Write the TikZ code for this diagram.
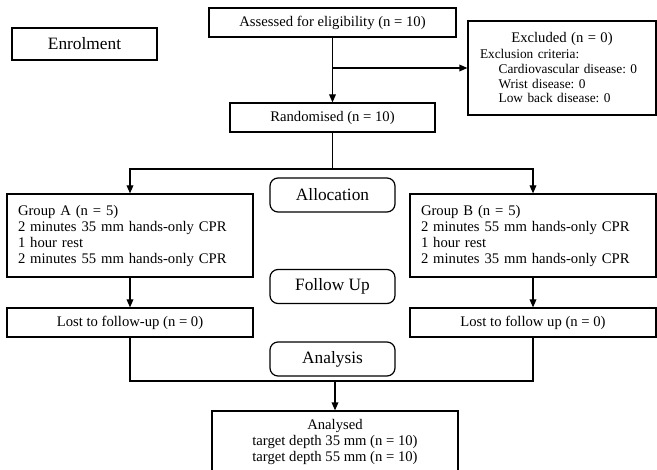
\documentclass[tikz,border=0pt]{standalone}
\usepackage{fontspec}
\setmainfont{Liberation Serif}
\usetikzlibrary{arrows.meta}
\newcommand{\bigtxt}{\fontsize{13}{15}\selectfont}
\newcommand{\midtxt}{\fontsize{11}{12}\selectfont}
\newcommand{\smalltxt}{\fontsize{10}{11}\selectfont}
\frenchspacing

\begin{document}
\begin{tikzpicture}[x=.75pt,y=-.75pt,line width=.9pt,
  box/.style={draw,rectangle,inner sep=0pt,font=\midtxt},
  grp/.style={box,minimum width=184.5pt,minimum height=62.25pt,text width=168pt,inner xsep=8.25pt,align=left},
  lost/.style={box,minimum width=184.5pt,minimum height=21.75pt},
  stage/.style={draw,rectangle,rounded corners=6pt,minimum width=93.75pt,minimum height=25.5pt,font=\bigtxt},
  arr/.style={-{Triangle[length=6pt,width=5pt]}}]
  \useasboundingbox (0,0) rectangle (657,470);

  % enrolment
  \node[box,font=\bigtxt,minimum width=108.75pt,minimum height=24pt] (enrol) at (84.5,44) {Enrolment};
  \node[box,minimum width=185.25pt,minimum height=21.75pt] (assess) at (332.5,22.5) {Assessed for eligibility (n = 10)};
  \node[box,font=\smalltxt,minimum width=141pt,minimum height=70.5pt,text width=123pt,inner xsep=9pt,align=left] (excl) at (562,68)
    {\makebox[\linewidth]{\midtxt Excluded (n = 0)}\\[1pt]
     Exclusion criteria:\\
     \hspace*{14pt}Cardiovascular disease: 0\\
     \hspace*{14pt}Wrist disease: 0\\
     \hspace*{14pt}Low back disease: 0};
  \node[box,minimum width=153.75pt,minimum height=21.75pt] (rand) at (332.5,117.5) {Randomised (n = 10)};

  % stages
  \node[stage] (alloc) at (332.5,195) {Allocation};
  \node[stage] (follow) at (332.5,286.5) {Follow Up};
  \node[stage] (analysis) at (332.5,359) {Analysis};

  % arms
  \node[grp] (grpA) at (130,235.5) {Group A (n = 5)\\2 minutes 35 mm hands-only CPR\\1 hour rest\\2 minutes 55 mm hands-only CPR};
  \node[grp] (grpB) at (533,235.5) {Group B (n = 5)\\2 minutes 55 mm hands-only CPR\\1 hour rest\\2 minutes 35 mm hands-only CPR};
  \node[lost] (lostA) at (130,322.5) {Lost to follow-up (n = 0)};
  \node[lost] (lostB) at (533,322.5) {Lost to follow up (n = 0)};
  \node[box,minimum width=184.5pt,minimum height=46.5pt,align=center] (result) at (335,442)
    {Analysed\\target depth 35 mm (n = 10)\\target depth 55 mm (n = 10)};

  % connectors
  \draw[arr] (assess) -- (rand);
  \draw[arr] (assess.south |- excl.west) -- (excl.west);
  \coordinate (split) at (332.5,169);
  \draw (rand) -- (split);
  \draw[arr] (split) -| (grpA.north);
  \draw[arr] (split) -| (grpB.north);
  \draw[arr] (grpA) -- (lostA);
  \draw[arr] (grpB) -- (lostB);
  \coordinate (merge) at (335,381);
  \draw (lostA.south) |- (merge) -| (lostB.south);
  \draw[arr] (merge) -- (result);
\end{tikzpicture}
\end{document}
